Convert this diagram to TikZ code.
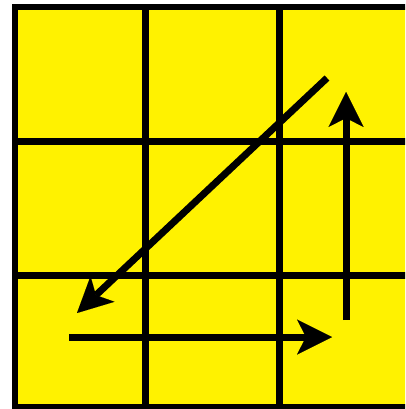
\documentclass[tikz,border=0pt]{standalone}
\usetikzlibrary{arrows.meta}
\tikzset{
  gridline/.style={draw=black, line width=7pt},
  bigarrow/.style={draw=black, line width=7pt,
    -{Stealth[length=35pt, width=35pt, inset=9pt, line width=0.01pt]}}
}
\begin{document}
\begin{tikzpicture}[x=1pt, y=-1pt]
\useasboundingbox (0,0) rectangle (405,409);
\clip (0,0) rectangle (405,409);
% board
\fill[yellow] (15,7) rectangle (413,407.5);
\draw[black, line width=6.5pt] (15,7) rectangle (413,407.5);
% inner grid lines
\coordinate (v1t) at (145.5,7);   \coordinate (v1b) at (145.5,407.5);
\coordinate (v2t) at (279.5,7);   \coordinate (v2b) at (279.5,407.5);
\coordinate (h1l) at (15,141.5);  \coordinate (h1r) at (413,141.5);
\coordinate (h2l) at (15,275);    \coordinate (h2r) at (413,275);
\draw[gridline] (v1t) -- (v1b);
\draw[gridline] (v2t) -- (v2b);
\draw[gridline] (h1l) -- (h1r);
\draw[gridline] (h2l) -- (h2r);
% arrows
\coordinate (dA) at (327,78);
\coordinate (dB) at (77,313);
\coordinate (hA) at (69,337);
\coordinate (hB) at (332,337);
\coordinate (vA) at (346,320);
\coordinate (vB) at (346,92);
\draw[bigarrow] (dA) -- (dB);
\draw[bigarrow] (hA) -- (hB);
\draw[bigarrow] (vA) -- (vB);
\end{tikzpicture}
\end{document}
